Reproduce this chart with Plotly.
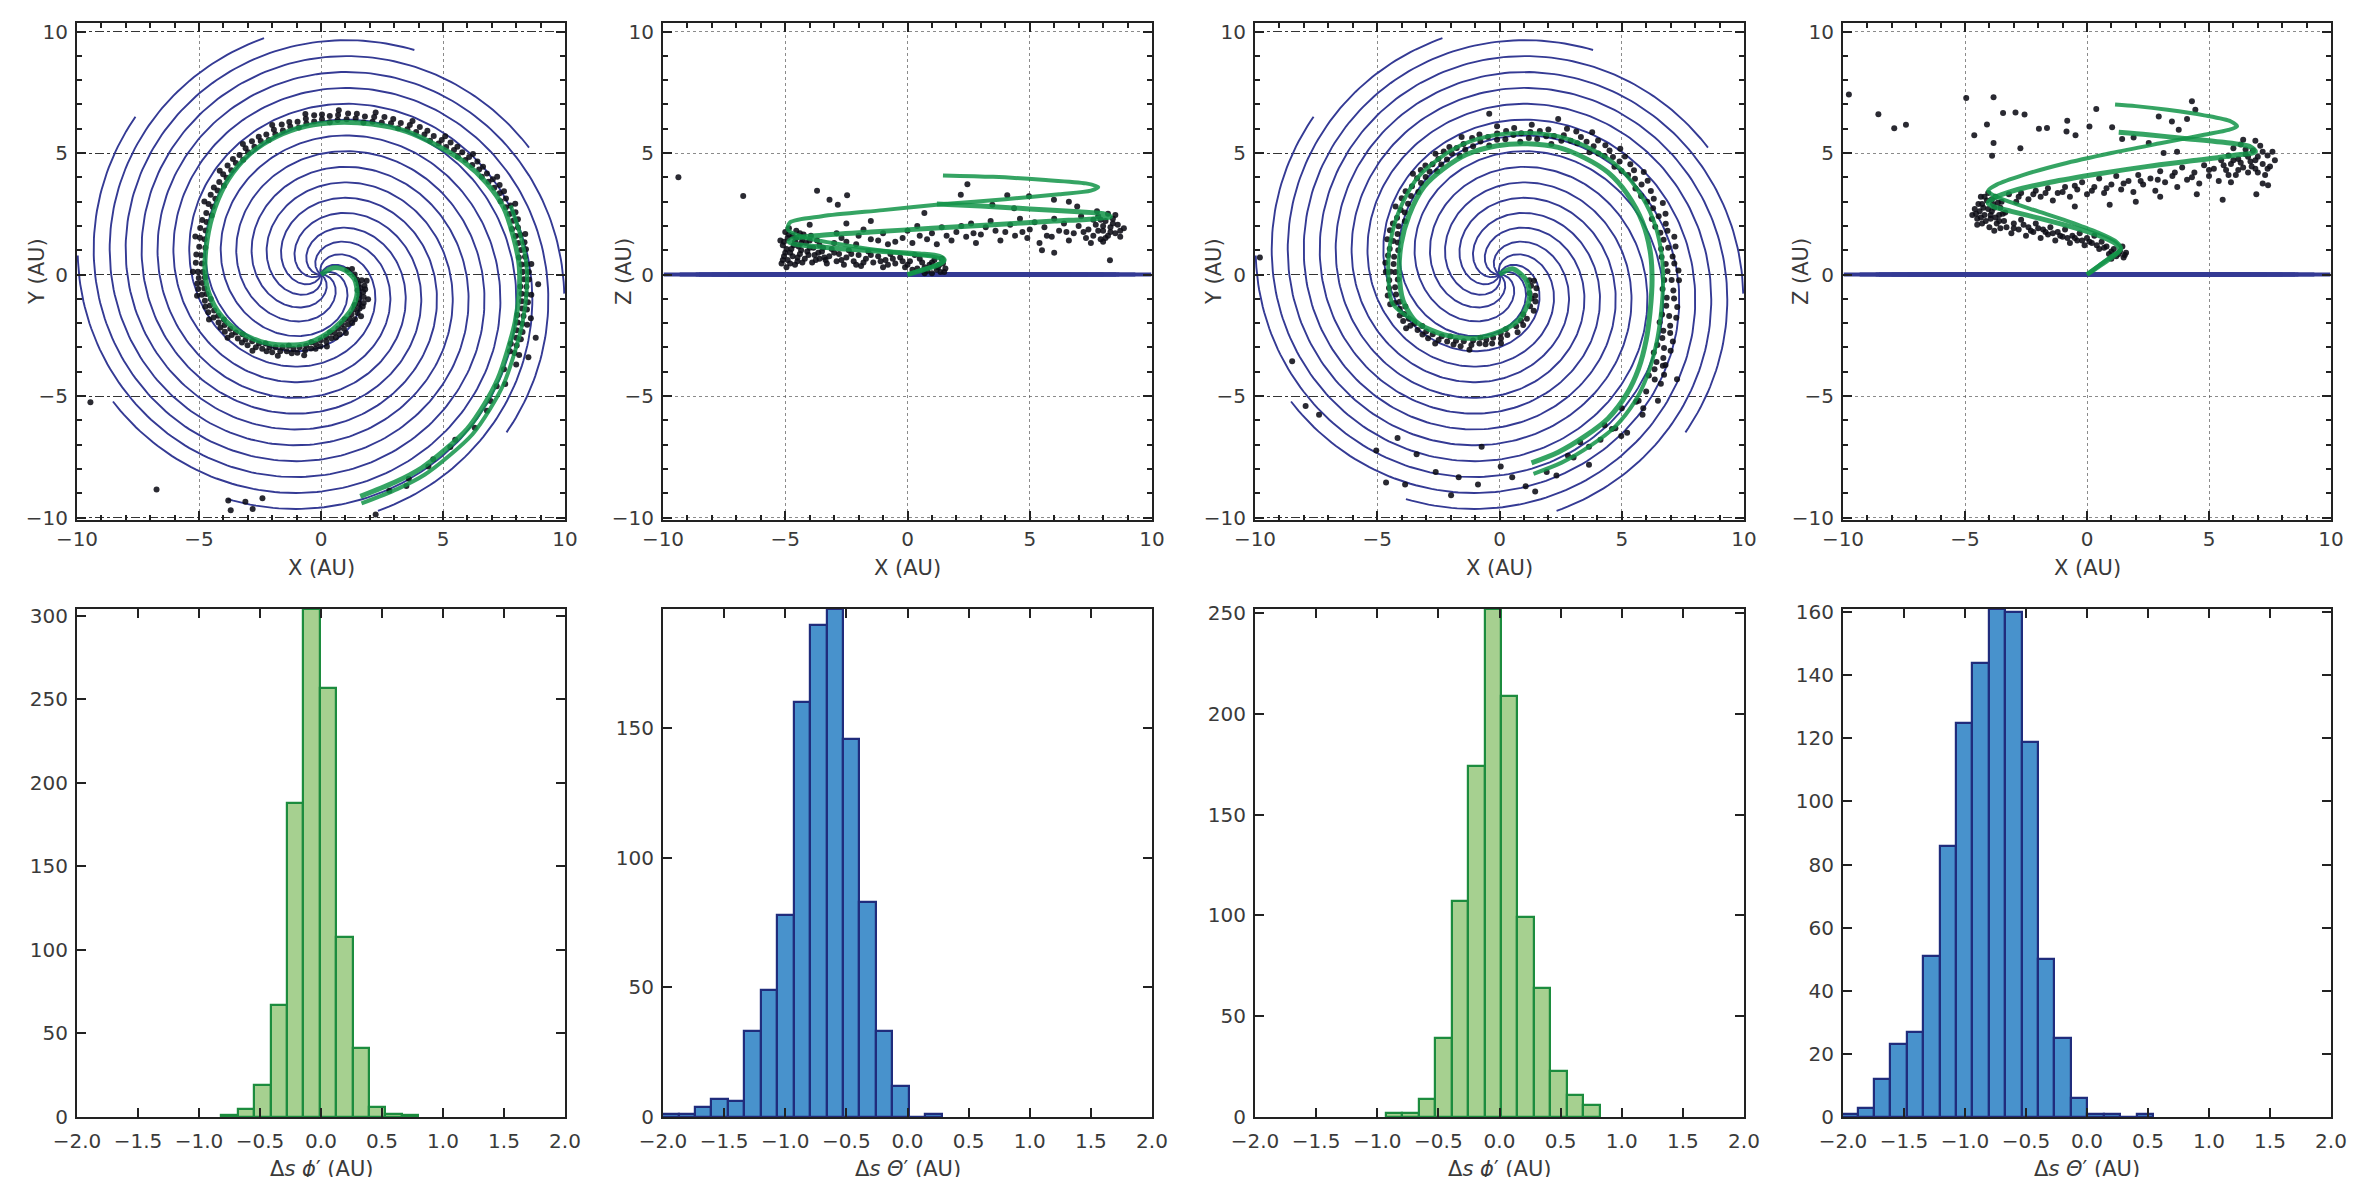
import numpy as np
import plotly.graph_objects as go

# ------------------------------------------------------------------
# Data
# ------------------------------------------------------------------
# Parker-spiral field lines (blue): 10 lines, each ending at r = 10 AU
N_FIELD_LINES = 10
SPIRAL_PITCH_AU_PER_RAD = 1.05
FIELD_LINE_RMAX_AU = 10.0
OUTER_END_ANGLES_DEG = [175.5, 139.5, 103.5, 67.5, 31.5, -4.5, -40.5, -76.5, -112.5, -148.5]

# Case A, green guiding-centre strands in the X-Y plane
A_GREEN_XY = [(0, 0), (0.51, 0.28), (0.98, 0.18), (1.37, -0.19), (1.48, -0.78), (1.29, -1.36),
              (0.82, -1.95), (0.2, -2.46), (-0.59, -2.83), (-1.53, -2.9), (-2.47, -2.76),
              (-3.41, -2.32), (-4.12, -1.66), (-4.59, -0.78), (-4.75, 0.1), (-4.67, 1.42),
              (-4.35, 2.74), (-3.8, 3.91), (-2.94, 4.94), (-1.84, 5.67), (-0.59, 6.11),
              (0.67, 6.26), (2.08, 6.19), (3.49, 5.89), (4.75, 5.31), (5.84, 4.65),
              (6.78, 3.77), (7.49, 2.74), (7.88, 1.57), (8.12, 0.4), (8.12, -0.78),
              (7.96, -1.95), (7.65, -3.12), (7.25, -4.3), (6.71, -5.32), (6.0, -6.35),
              (5.06, -7.23), (4.12, -7.96), (3.02, -8.55), (1.61, -9.13)]
A_GREEN2_XY = [(7.77, 2.84), (8.17, 1.63), (8.42, 0.42), (8.42, -0.81), (8.25, -2.02),
               (7.93, -3.23), (7.51, -4.45), (6.94, -5.51), (6.21, -6.57), (5.23, -7.48),
               (4.26, -8.23), (3.12, -8.83), (1.66, -9.42)]

# Case A, particle positions (black dots) in X-Y
A_POINTS_XY = [
    (1.08, 0.20), (1.27, 0.23), (1.47, -0.2), (1.67, -0.23), (1.87, -0.26), (1.57, -0.83), (1.75, -0.92),
    (1.93, -1.02), (1.36, -1.43), (1.5, -1.58), (1.64, -1.72), (0.86, -2.04), (0.94, -2.23), (1.02, -2.41),
    (0.21, -2.56), (0.22, -2.76), (0.24, -2.96), (-0.61, -2.93), (-0.65, -3.12), (-0.69, -3.32),
    (-1.58, -2.99), (-1.67, -3.16), (-1.77, -3.34), (-2.54, -2.84), (-2.67, -2.99), (-2.81, -3.14),
    (-3.49, -2.38), (-3.66, -2.49), (-3.83, -2.6), (-4.21, -1.7), (-4.4, -1.77), (-4.59, -1.85),
    (-4.69, -0.8), (-4.88, -0.83), (-5.08, -0.87), (-4.85, 0.1), (-5.05, 0.11), (-5.25, 0.11),
    (-4.77, 1.45), (-4.96, 1.51), (-5.15, 1.57), (-4.44, 2.79), (-4.61, 2.9), (-4.78, 3.01),
    (-3.87, 3.98), (-4.01, 4.13), (-4.15, 4.27), (-2.99, 5.03), (-3.09, 5.2), (-3.2, 5.37),
    (-1.87, 5.77), (-1.93, 5.96), (-2.0, 6.15), (-0.6, 6.21), (-0.62, 6.41), (-0.64, 6.61),
    (0.68, 6.36), (0.7, 6.56), (0.73, 6.76), (2.11, 6.29), (2.18, 6.48), (2.24, 6.67),
    (3.54, 5.98), (3.64, 6.15), (3.75, 6.32), (4.82, 5.39), (4.95, 5.54), (5.09, 5.69),
    (5.92, 4.71), (6.07, 4.84), (6.23, 4.96), (6.87, 3.82), (7.04, 3.92), (7.22, 4.02),
    (7.58, 2.77), (7.77, 2.84), (7.96, 2.91), (7.98, 1.59), (8.17, 1.63), (8.37, 1.67),
    (8.22, 0.41), (8.42, 0.42), (8.62, 0.43), (8.22, -0.79), (8.42, -0.81), (8.62, -0.83),
    (8.06, -1.97), (8.25, -2.02), (8.45, -2.07), (7.74, -3.16), (7.93, -3.23), (8.12, -3.31),
    (1.38, 0.0), (1.62, -0.55), (1.81, -0.61), (1.55, -1.19), (1.71, -1.31), (1.17, -1.83), (1.28, -1.99),
    (0.56, -2.4), (0.61, -2.59), (-0.21, -2.85), (-0.22, -3.05), (-1.13, -3.06), (-1.2, -3.24),
    (-2.11, -2.99), (-2.23, -3.16), (-3.09, -2.67), (-3.24, -2.8), (-3.95, -2.08), (-4.12, -2.18),
    (-4.55, -1.27), (-4.74, -1.33), (-4.87, -0.35), (-5.07, -0.37), (-4.91, 0.79), (-5.11, 0.82),
    (-4.69, 2.16), (-4.87, 2.24), (-4.24, 3.46), (-4.39, 3.58), (-3.49, 4.59), (-3.61, 4.75),
    (-2.47, 5.49), (-2.55, 5.67), (-1.26, 6.09), (-1.3, 6.28), (0.04, 6.39), (0.04, 6.59),
    (1.42, 6.42), (1.47, 6.62), (2.87, 6.22), (2.96, 6.4), (4.24, 5.76), (4.36, 5.92),
    (5.45, 5.12), (5.59, 5.26), (6.48, 4.32), (6.64, 4.43), (7.32, 3.34), (7.5, 3.43),
    (7.88, 2.21), (8.07, 2.27), (8.2, 1.01), (8.4, 1.04), (8.32, -0.19), (8.52, -0.2),
    (8.24, -1.4), (8.44, -1.44), (8.0, -2.6), (8.19, -2.66),
    (7.5, -3.9), (8.0, -3.7), (7.2, -4.6), (7.55, -4.5), (6.8, -5.6), (6.95, -5.2), (6.3, -6.3),
    (5.5, -6.8), (5.3, -7.1), (4.6, -7.6), (4.4, -7.9), (3.6, -8.4), (3.5, -8.7), (2.8, -8.9),
    (8.6, -1.8), (8.8, -2.6), (8.5, -3.4), (8.9, -0.4),
    (-6.74, -8.84), (-9.45, -5.25), (-3.8, -9.3), (-3.1, -9.35), (-2.8, -9.65), (-2.4, -9.2),
    (-3.7, -9.7), (2.24, -9.87)]
A_POINTS_XY_MORE = [
    (1.54, -0.39), (1.78, -0.46), (1.50, -0.65), (1.73, -0.72), (1.55, -1.02), (1.75, -1.17), (1.38, -1.25),
    (1.58, -1.4), (1.25, -1.63), (1.39, -1.84), (0.97, -1.84), (1.10, -2.05), (0.71, -2.22), (0.77, -2.46),
    (0.37, -2.38), (0.43, -2.62), (-0.01, -2.70), (-0.02, -2.95), (-0.39, -2.79), (-0.41, -3.04),
    (-0.88, -2.99), (-0.97, -3.22), (-1.32, -2.93), (-1.40, -3.16), (-1.86, -2.99), (-2.0, -3.2),
    (-2.27, -2.84), (-2.41, -3.05), (-2.82, -2.75), (-3.01, -2.91), (-3.22, -2.46), (-3.41, -2.63),
    (-3.72, -2.23), (-3.94, -2.35), (-3.98, -1.85), (-4.2, -1.97), (-4.38, -1.48), (-4.62, -1.55),
    (-4.52, -1.01), (-4.76, -1.08), (-4.78, -0.57), (-5.03, -0.59), (-4.76, -0.12), (-5.01, -0.14),
    (-4.88, 0.45), (-5.13, 0.49), (-4.74, 1.10), (-4.99, 1.14), (-4.73, 1.81), (-4.95, 1.91),
    (-4.48, 2.43), (-4.70, 2.53), (-4.33, 3.12), (-4.52, 3.28), (-3.98, 3.65), (-4.17, 3.81),
    (-3.68, 4.29), (-3.83, 4.49), (-3.19, 4.72), (-3.34, 4.92), (-2.73, 5.26), (-2.83, 5.48),
    (-2.14, 5.54), (-2.24, 5.76), (-1.56, 5.93), (-1.61, 6.17), (-0.91, 6.05), (-0.96, 6.29),
    (-0.28, 6.3), (-0.28, 6.55), (0.36, 6.27), (0.36, 6.52), (1.05, 6.39), (1.11, 6.63),
    (1.74, 6.26), (1.80, 6.50), (2.49, 6.26), (2.6, 6.48), (3.16, 6.02), (3.27, 6.24),
    (3.9, 5.87), (4.05, 6.07), (4.47, 5.5), (4.62, 5.7), (5.13, 5.25), (5.31, 5.43),
    (5.61, 4.85), (5.79, 5.03), (6.2, 4.51), (6.41, 4.65), (6.59, 4.02), (6.8, 4.16),
    (7.1, 3.57), (7.32, 3.68), (7.36, 3.02), (7.58, 3.13), (7.73, 2.49), (7.97, 2.56),
    (7.83, 1.87), (8.07, 1.94), (8.09, 1.3), (8.34, 1.33), (8.11, 0.7), (8.36, 0.73),
    (8.27, 0.11), (8.52, 0.1), (8.17, -0.49), (8.42, -0.5), (8.23, -1.1), (8.48, -1.14),
    (8.05, -1.67), (8.3, -1.71), (8.02, -2.29), (8.26, -2.36), (7.78, -2.85), (8.02, -2.92)]

# Case A, X-Z plane
A_GREEN_XZ = [(0, 0), (0.5, 0.15), (1.0, 0.3), (1.35, 0.45), (1.5, 0.6), (1.3, 0.75), (0.5, 0.85),
              (-1.0, 0.95), (-2.5, 1.05), (-3.8, 1.15), (-4.6, 1.25), (-4.85, 1.35), (-4.6, 1.5),
              (-3.5, 1.62), (-1.5, 1.75), (1.0, 1.9), (3.5, 2.05), (6.0, 2.2), (7.7, 2.3),
              (8.3, 2.38), (8.0, 2.5), (7.0, 2.58), (5.0, 2.7), (3.0, 2.82), (1.2, 2.9)]
A_GREEN2_XZ = [(0, 0), (0.6, 0.2), (1.2, 0.4), (1.5, 0.55), (1.2, 0.7), (0.0, 0.85), (-2.5, 1.2),
               (-4.3, 1.55), (-4.9, 1.85), (-4.8, 2.15), (-3.5, 2.4), (-1.0, 2.65), (1.5, 2.9),
               (4.0, 3.1), (6.2, 3.3), (7.5, 3.45), (7.8, 3.6), (7.3, 3.75), (5.5, 3.9),
               (3.5, 4.02), (1.45, 4.08)]
A_POINTS_XZ = [
    (-5.1, 0.6), (-5.0, 0.9), (-5.1, 1.2), (-4.9, 1.5), (-5.0, 1.75), (-4.8, 0.45), (-4.7, 0.75),
    (-4.75, 1.05), (-4.6, 1.35), (-4.7, 1.6), (-4.5, 0.55), (-4.4, 0.85), (-4.45, 1.15), (-4.3, 1.45),
    (-4.2, 0.65), (-4.1, 0.95), (-4.15, 1.3), (-3.9, 0.5), (-3.8, 0.8), (-3.85, 1.1), (-3.7, 1.4),
    (-3.6, 0.65), (-3.5, 0.95), (-5.2, 1.4), (-4.95, 0.3), (-4.55, 1.8), (-4.25, 1.65), (-3.95, 1.6),
    (-3.3, 0.45), (-3.2, 0.75), (-3.1, 1.05), (-2.9, 0.55), (-2.8, 0.85), (-2.6, 0.4), (-2.5, 0.7),
    (-2.4, 1.0), (-2.2, 0.55), (-2.0, 0.8), (-1.9, 0.35), (-1.7, 0.65), (-1.6, 0.95), (-1.4, 0.5),
    (-1.2, 0.75), (-1.0, 0.3), (-0.9, 0.6), (-0.7, 0.85), (-0.5, 0.45), (-0.3, 0.7), (-0.1, 0.3),
    (0.1, 0.55), (0.3, 0.8), (0.4, 0.25), (0.6, 0.5), (0.8, 0.15), (0.9, 0.4), (1.1, 0.6), (1.2, 0.2),
    (1.3, 0.4), (1.5, 0.1), (1.4, 0.65), (0.7, 0.05), (1.0, 0.05),
    (-3.0, 1.3), (-2.9, 1.7), (-2.7, 1.5), (-2.1, 1.25), (-2.0, 1.6), (-1.8, 1.85), (-1.2, 1.4),
    (-1.0, 1.7), (-0.8, 1.25), (-0.2, 1.5), (0.0, 1.8), (0.2, 1.3), (0.4, 2.0), (0.8, 1.45),
    (1.0, 1.7), (1.2, 1.25), (1.4, 1.95), (1.8, 1.4), (2.0, 1.75), (2.2, 2.0), (2.4, 1.55),
    (2.8, 1.3), (3.0, 1.65), (3.2, 1.95), (3.4, 2.2), (2.6, 2.1), (3.8, 1.4), (4.0, 1.75),
    (4.2, 2.05), (4.4, 1.6), (4.6, 2.3), (4.9, 1.5), (5.0, 1.85), (5.2, 2.15), (5.4, 1.3),
    (5.6, 1.95), (5.9, 1.55), (6.0, 2.3), (6.2, 1.8), (6.4, 2.1), (6.6, 1.4), (6.8, 1.7),
    (7.0, 2.0), (7.1, 2.4), (7.3, 1.5), (7.4, 1.85), (7.6, 1.6), (7.7, 2.05), (7.8, 2.4),
    (7.9, 1.45), (8.0, 1.8), (8.1, 2.2), (8.2, 1.6), (8.3, 1.95), (8.4, 2.3), (8.5, 1.7),
    (8.6, 2.05), (8.7, 1.55), (7.75, 2.6), (8.2, 2.5), (8.85, 1.9), (8.5, 2.45), (7.5, 1.3),
    (8.0, 1.35),
    (-9.37, 4.0), (-6.72, 3.23), (-3.7, 3.45), (-3.19, 3.08), (-2.85, 2.87), (-2.47, 3.26),
    (2.18, 3.28), (2.45, 3.72), (4.08, 3.26), (4.97, 3.22), (5.99, 3.08), (6.6, 3.0), (6.94, 2.8),
    (0.69, 2.53), (3.47, 2.87), (4.36, 2.73), (8.28, 0.59), (6.0, 0.9), (5.5, 1.0), (-4.0, 2.05),
    (-2.5, 2.1), (-1.5, 2.2)]
A_POINTS_XZ_MORE = [
    (-5.15, 0.45), (-5.05, 0.75), (-4.95, 1.05), (-5.05, 1.35), (-4.85, 1.65), (-4.9, 0.6), (-4.8, 0.9),
    (-4.65, 1.2), (-4.55, 1.5), (-4.6, 0.4), (-4.5, 0.7), (-4.35, 1.0), (-4.35, 1.3), (-4.3, 0.5),
    (-4.05, 0.8), (-4.0, 1.1), (-4.0, 1.4), (-3.75, 0.6), (-3.65, 0.9), (-3.6, 1.2), (-3.4, 0.7),
    (-3.45, 1.1), (-4.85, 1.9), (-4.4, 1.7),
    (-3.35, 0.6), (-3.0, 0.9), (-2.7, 0.6), (-2.3, 0.85), (-2.1, 0.4), (-1.8, 0.5), (-1.5, 0.8),
    (-1.1, 0.55), (-0.8, 0.4), (-0.6, 0.65), (-0.2, 0.55), (0.0, 0.4), (0.2, 0.2), (0.5, 0.65),
    (0.7, 0.3), (1.0, 0.5), (1.25, 0.3), (1.45, 0.45), (1.55, 0.25), (1.35, 0.1),
    (-2.5, 1.35), (-1.5, 1.45), (-0.5, 1.35), (0.5, 1.6), (1.6, 1.6), (2.7, 1.7), (3.6, 1.8),
    (4.7, 1.75), (5.7, 1.6), (6.5, 1.75), (7.2, 1.75), (7.8, 1.8), (8.3, 1.75), (8.0, 2.0),
    (7.6, 2.25), (8.4, 2.1), (8.7, 1.8), (8.1, 1.5), (7.9, 2.25)]

# Case B, X-Y plane
B_GREEN_XY = [(0, 0), (0.52, 0.24), (1.07, -0.2), (1.23, -0.93), (0.84, -1.81), (0.05, -2.33),
              (-1.04, -2.62), (-2.29, -2.47), (-3.39, -1.96), (-3.94, -1.08), (-4.1, 0.1),
              (-4.02, 1.27), (-3.7, 2.44), (-3.08, 3.62), (-2.29, 4.35), (-1.35, 4.94),
              (-0.1, 5.3), (1.15, 5.38), (2.4, 5.23), (3.5, 4.79), (4.44, 4.2), (5.22, 3.32),
              (5.85, 2.15), (6.16, 0.98), (6.24, -0.2), (6.16, -1.52), (6.0, -2.69),
              (5.69, -3.87), (5.22, -4.89), (4.44, -5.92), (3.5, -6.65), (2.4, -7.31), (1.31, -7.75)]
B_GREEN2_XY = [(-3.39, -1.96), (-4.37, -1.2), (-4.55, 0.11), (-4.45, 1.41), (-4.08, 2.69),
               (-3.37, 3.96), (-2.5, 4.75), (-1.47, 5.37), (-0.11, 5.75), (1.24, 5.82),
               (2.59, 5.64), (3.77, 5.15), (4.77, 4.51), (5.6, 3.56), (6.27, 2.31), (6.6, 1.05),
               (6.69, -0.21), (6.6, -1.63), (6.41, -2.87), (6.06, -4.12), (5.55, -5.2),
               (4.71, -6.28), (3.71, -7.05), (2.54, -7.74), (1.39, -8.2)]
B_POINTS_XY = [
    (1.22, -0.23), (1.41, -0.26), (1.31, -0.99), (1.47, -1.11), (0.88, -1.9), (0.97, -2.08),
    (0.05, -2.43), (0.06, -2.63), (0.06, -2.83), (-1.08, -2.71), (-1.15, -2.9), (-1.23, -3.09),
    (-2.36, -2.54), (-2.49, -2.69), (-2.63, -2.84), (-3.48, -2.01), (-3.65, -2.11), (-3.82, -2.21),
    (-4.08, -1.12), (-4.28, -1.17), (-4.47, -1.22), (-4.25, 0.1), (-4.45, 0.11), (-4.65, 0.11),
    (-4.16, 1.32), (-4.35, 1.38), (-4.59, 1.45), (-3.87, 2.55), (-4.04, 2.66), (-4.25, 2.8),
    (-3.21, 3.77), (-3.37, 3.96), (-3.54, 4.15), (-2.38, 4.53), (-2.5, 4.75), (-2.62, 4.97),
    (-1.4, 5.13), (-1.47, 5.37), (-1.55, 5.66), (-0.1, 5.55), (-0.1, 5.8), (-0.1, 6.1),
    (1.2, 5.62), (1.26, 5.87), (1.32, 6.16), (2.53, 5.5), (2.63, 5.73), (2.76, 6.0),
    (3.68, 5.03), (3.85, 5.28), (4.03, 5.52), (4.7, 4.44), (4.91, 4.65), (5.13, 4.86),
    (5.56, 3.54), (5.81, 3.7), (6.06, 3.86), (6.23, 2.29), (6.51, 2.4), (6.79, 2.5),
    (6.61, 1.05), (6.9, 1.1), (7.2, 1.15), (6.74, -0.22), (7.04, -0.22), (7.34, -0.23),
    (6.65, -1.64), (6.94, -1.71), (7.23, -1.78), (6.46, -2.9), (6.73, -3.02), (7.0, -3.14),
    (6.11, -4.15), (6.35, -4.32), (6.6, -4.49), (5.59, -5.23), (5.88, -5.5), (4.74, -6.32), (4.98, -6.64),
    (-0.54, -2.68), (-0.57, -2.87), (-1.78, -2.72), (-1.88, -2.88), (-3.0, -2.34), (-3.15, -2.47),
    (-3.9, -1.62), (-4.08, -1.69), (-4.27, -0.52), (-4.52, -0.55), (-4.31, 0.73), (-4.56, 0.78),
    (-4.13, 1.99), (-4.36, 2.1), (-3.62, 3.23), (-3.84, 3.43), (-2.86, 4.24), (-3.03, 4.49),
    (-1.95, 4.98), (-2.05, 5.25), (-0.78, 5.47), (-0.82, 5.76), (0.57, 5.74), (0.6, 6.03),
    (1.91, 5.69), (2.0, 5.97), (3.18, 5.4), (3.33, 5.66), (4.3, 4.88), (4.5, 5.1), (5.26, 4.1),
    (5.5, 4.29), (6.04, 2.99), (6.31, 3.12), (6.58, 1.72), (6.87, 1.8), (6.8, 0.43), (7.15, 0.45),
    (6.84, -0.95), (7.14, -0.99), (6.7, -2.31), (6.98, -2.41), (6.42, -3.6), (6.68, -3.75), (6.0, -4.81),
    (6.79, -3.72), (7.26, -4.31), (6.48, -5.19), (5.85, -5.77), (5.69, -5.19), (5.22, -6.51),
    (4.6, -6.36), (3.66, -7.09), (4.13, -6.8), (3.03, -7.53), (3.66, -7.83), (1.93, -8.12),
    (1.46, -8.93), (0.52, -8.34), (0.05, -7.9), (-0.73, -7.09), (-0.88, -8.64), (-1.67, -8.34),
    (-1.98, -9.08), (-2.61, -8.12), (-3.39, -7.39), (-3.86, -8.64), (-4.64, -8.56), (-4.17, -6.73),
    (-5.04, -7.24), (-7.38, -5.77), (-7.93, -5.41), (-8.48, -3.57), (2.33, -8.27), (1.07, -8.71),
    (2.8, -7.46), (5.0, -5.5), (4.3, -6.2), (3.3, -6.9), (-9.8, 0.7), (-0.42, 6.62), (2.4, 6.4)]
B_POINTS_XY_MORE = [
    (1.29, -0.46), (1.51, -0.56), (1.23, -0.77), (1.46, -0.87), (1.25, -1.3), (1.4, -1.49), (0.97, -1.63),
    (1.12, -1.82), (0.68, -2.13), (0.74, -2.37), (0.26, -2.25), (0.32, -2.49), (-0.26, -2.6), (-0.3, -2.84),
    (-0.78, -2.6), (-0.82, -2.84), (-1.46, -2.75), (-1.59, -2.95), (-2.01, -2.55), (-2.14, -2.76),
    (-2.73, -2.46), (-2.92, -2.62), (-3.16, -2.12), (-3.35, -2.28), (-3.71, -1.82), (-3.94, -1.91),
    (-3.85, -1.32), (-4.08, -1.41), (-4.23, -0.82), (-4.57, -0.86), (-4.16, -0.2), (-4.51, -0.24),
    (-4.33, 0.43), (-4.67, 0.49), (-4.14, 1.0), (-4.49, 1.06), (-4.17, 1.67), (-4.48, 1.82),
    (-3.87, 2.19), (-4.19, 2.34), (-3.74, 2.91), (-4.0, 3.14), (-3.32, 3.4), (-3.58, 3.63),
    (-3.02, 4.01), (-3.22, 4.3), (-2.55, 4.25), (-2.74, 4.54), (-2.15, 4.73), (-2.28, 5.06),
    (-1.63, 4.88), (-1.75, 5.21), (-1.08, 5.28), (-1.12, 5.62), (-0.42, 5.31), (-0.47, 5.66),
    (0.24, 5.57), (0.27, 5.91), (0.85, 5.46), (0.89, 5.81), (1.54, 5.58), (1.65, 5.91),
    (2.12, 5.37), (2.23, 5.7), (2.91, 5.51), (3.14, 5.89), (3.56, 5.46), (3.79, 5.85),
    (4.04, 4.98), (4.33, 5.32), (4.64, 4.84), (4.94, 5.18), (4.99, 4.26), (5.35, 4.54),
    (5.54, 3.94), (5.9, 4.22), (5.79, 3.23), (6.19, 3.44), (6.28, 2.73), (6.68, 2.94),
    (6.37, 1.97), (6.8, 2.09), (6.71, 1.43), (7.15, 1.55), (6.63, 0.72), (7.08, 0.74),
    (6.87, 0.14), (7.32, 0.17), (6.67, -0.59), (7.11, -0.66), (6.82, -1.28), (7.27, -1.34),
    (6.55, -1.96), (6.98, -2.11), (6.66, -2.61), (7.09, -2.76), (6.31, -3.21), (6.7, -3.43),
    (6.34, -3.9), (6.73, -4.12)]

# Case B, X-Z plane
B_GREEN_XZ = [(0, 0), (0.5, 0.35), (1.0, 0.7), (1.35, 1.0), (1.2, 1.25), (0.5, 1.6), (-0.6, 1.95),
              (-1.9, 2.3), (-3.1, 2.6), (-3.85, 2.8), (-4.05, 2.95), (-3.8, 3.15), (-3.0, 3.45),
              (-1.5, 3.8), (0.5, 4.15), (2.5, 4.45), (4.5, 4.7), (6.0, 4.9), (6.9, 5.05),
              (6.7, 5.25), (5.5, 5.45), (4.0, 5.6), (2.5, 5.75), (1.3, 5.85)]
B_GREEN2_XZ = [(0, 0), (0.5, 0.38), (1.0, 0.75), (1.4, 1.05), (1.2, 1.35), (0.4, 1.75), (-0.8, 2.2),
               (-2.0, 2.6), (-3.2, 3.0), (-3.9, 3.3), (-4.05, 3.45), (-3.7, 3.7), (-2.6, 4.1),
               (-1.0, 4.55), (1.0, 5.0), (3.0, 5.4), (4.8, 5.75), (5.8, 5.95), (6.15, 6.1),
               (5.9, 6.3), (4.8, 6.55), (3.3, 6.78), (2.0, 6.93), (1.15, 7.0)]
B_POINTS_XZ = [
    (-4.5, 2.3), (-4.4, 2.6), (-4.45, 2.9), (-4.3, 2.1), (-4.2, 2.45), (-4.25, 2.75), (-4.1, 3.05),
    (-4.0, 1.95), (-3.95, 2.3), (-3.9, 2.6), (-3.85, 2.9), (-3.75, 3.2), (-3.7, 2.1), (-3.6, 2.45),
    (-3.55, 2.75), (-3.4, 2.2), (-3.35, 2.55), (-4.6, 2.7), (-4.35, 3.2), (-4.05, 3.35), (-3.8, 1.8),
    (-4.7, 2.45), (-3.5, 3.0), (-3.3, 1.95),
    (-3.1, 1.7), (-3.0, 2.1), (-2.8, 1.85), (-2.7, 2.25), (-2.5, 1.6), (-2.4, 1.95), (-2.2, 1.75),
    (-2.1, 2.1), (-1.9, 1.5), (-1.8, 1.85), (-1.6, 1.65), (-1.5, 1.95), (-1.3, 1.4), (-1.2, 1.75),
    (-1.0, 1.55), (-0.9, 1.85), (-0.7, 1.3), (-0.6, 1.6), (-0.4, 1.4), (-0.3, 1.7), (-0.1, 1.2),
    (0.0, 1.5), (0.2, 1.3), (0.3, 1.6), (0.5, 1.05), (0.6, 1.35), (0.8, 1.15), (0.9, 0.85),
    (1.1, 1.05), (1.2, 0.75), (1.35, 0.95), (1.5, 0.7), (1.6, 0.9), (1.45, 1.15), (1.0, 0.65),
    (-3.2, 3.3), (-2.9, 3.0), (-2.7, 3.35), (-2.4, 3.1), (-2.1, 3.45), (-1.9, 3.2), (-1.6, 3.55),
    (-1.4, 3.05), (-1.2, 3.35), (-0.9, 3.6), (-0.7, 3.2), (-0.4, 3.5), (-0.2, 3.8), (0.0, 3.3),
    (0.3, 3.6), (0.5, 3.95), (0.7, 3.35), (1.0, 3.7), (1.2, 4.05), (1.4, 3.5), (1.7, 3.85),
    (1.9, 3.4), (2.1, 4.1), (2.3, 3.7), (2.6, 3.95), (2.8, 3.45), (3.0, 4.25), (3.2, 3.8),
    (3.5, 4.05), (3.7, 3.6), (3.9, 4.4), (4.1, 3.9), (4.4, 4.2), (4.6, 3.75), (4.8, 4.5),
    (5.0, 4.05), (5.2, 4.35), (5.4, 3.85), (5.5, 4.7),
    (5.7, 4.3), (5.8, 4.9), (5.9, 4.55), (6.0, 5.2), (6.1, 4.1), (6.2, 4.75), (6.3, 5.35),
    (6.4, 4.4), (6.5, 4.95), (6.6, 4.2), (6.7, 4.65), (6.8, 5.1), (6.9, 4.35), (7.0, 4.85),
    (7.1, 5.3), (7.2, 4.55), (7.3, 4.1), (7.4, 4.9), (7.5, 4.45), (7.6, 5.05), (6.4, 5.55),
    (6.9, 5.5), (7.7, 4.7), (5.9, 3.8), (7.2, 3.75),
    (0.93, 2.87), (2.0, 3.0), (3.0, 3.2), (-0.5, 2.8), (4.5, 3.3),
    (-4.95, 7.26), (-3.83, 7.29), (-3.44, 6.65), (-2.93, 6.67), (-2.56, 6.58), (-4.1, 6.17),
    (-4.62, 5.73), (-3.83, 5.41), (-3.89, 4.89), (-2.73, 5.2), (-1.97, 6.0), (-1.64, 6.03),
    (-0.81, 6.33), (-0.84, 5.89), (-0.47, 5.73), (0.1, 6.09), (0.38, 6.81), (1.03, 6.06),
    (1.44, 5.58), (1.91, 5.64), (2.94, 6.5), (3.48, 6.3), (4.1, 6.4), (4.3, 7.13), (4.44, 6.78),
    (3.76, 5.96), (2.53, 5.41), (3.14, 5.0), (3.69, 5.05), (-9.76, 7.41), (-8.55, 6.6),
    (-7.9, 6.02), (-7.42, 6.16), (5.56, 3.08), (6.94, 3.3), (7.42, 3.67)]
B_POINTS_XZ_MORE = [
    (-4.55, 2.5), (-4.35, 2.35), (-4.3, 2.9), (-4.15, 2.2), (-4.05, 2.7), (-3.95, 2.45), (-3.8, 2.75),
    (-3.75, 2.35), (-3.65, 2.95), (-3.6, 2.2), (-3.45, 2.5), (-4.2, 3.2), (-3.9, 3.1), (-4.5, 2.05),
    (-3.55, 1.9),
    (-3.0, 1.9), (-2.6, 2.05), (-2.3, 1.8), (-2.0, 1.9), (-1.7, 1.75), (-1.4, 1.7), (-1.1, 1.6),
    (-0.8, 1.5), (-0.5, 1.5), (-0.2, 1.4), (0.1, 1.35), (0.4, 1.2), (0.7, 1.1), (1.0, 0.95),
    (1.3, 0.85), (1.55, 0.8),
    (-2.8, 3.2), (-2.2, 3.3), (-1.7, 3.35), (-1.0, 3.4), (-0.5, 3.65), (0.2, 3.45), (0.8, 3.55),
    (1.5, 3.75), (2.2, 3.85), (2.9, 3.9), (3.6, 4.2), (4.3, 4.0), (5.0, 4.3), (5.6, 4.5),
    (6.0, 4.7), (6.3, 4.6), (6.6, 4.85), (6.9, 4.7), (7.2, 5.05), (7.4, 4.35), (6.2, 4.3),
    (6.75, 4.45), (5.8, 4.1), (7.0, 4.2), (6.5, 5.15)]

# Histograms: first bin left edge, common bin width, counts per bin
HIST_BIN_WIDTH = 0.1345
HIST_A_PHI_START = -0.817
HIST_A_PHI_COUNTS = [1, 5, 19, 67, 188, 304, 257, 108, 41, 6, 2, 1]
HIST_A_THETA_START = -2.007
HIST_A_THETA_COUNTS = [1, 1, 4, 7, 6, 33, 49, 78, 160, 190, 196, 146, 83, 33, 12, 0, 1]
HIST_B_PHI_START = -0.929
HIST_B_PHI_COUNTS = [2, 2, 9, 39, 107, 174, 252, 209, 99, 64, 23, 11, 6]
HIST_B_THETA_START = -2.015
HIST_B_THETA_COUNTS = [1, 3, 12, 23, 27, 51, 86, 125, 144, 161, 160, 119, 50, 25, 6, 1, 1, 0, 1]

# ------------------------------------------------------------------
W, H = 2358, 1177
FONT = "DejaVu Sans"
TXT = "#3a3a3a"
FRAME = "#222222"
BLUE_LINE = "rgb(52,58,148)"
GREEN_LINE = "rgba(18,148,72,0.85)"
DOT = "rgba(12,12,22,0.88)"

COLS_PX = [(69, 557), (655, 1144), (1247, 1736), (1835, 2323)]
ROWS_PX = [(15, 512), (601, 1109)]


def xdom(c):
    a, b = COLS_PX[c]
    return [a / W, b / W]


def ydom(r):
    t, b = ROWS_PX[r]
    return [1 - b / H, 1 - t / H]


def unzip(pts):
    return [p[0] for p in pts], [p[1] for p in pts]


# spiral field lines
r_s = np.linspace(0.0, FIELD_LINE_RMAX_AU, 400)
spx, spy = [], []
for end_deg in OUTER_END_ANGLES_DEG[:N_FIELD_LINES]:
    start = np.deg2rad(end_deg) + FIELD_LINE_RMAX_AU / SPIRAL_PITCH_AU_PER_RAD
    phi = start - r_s / SPIRAL_PITCH_AU_PER_RAD
    spx += list(r_s * np.cos(phi)) + [None]
    spy += list(r_s * np.sin(phi)) + [None]
spz = [None if v is None else 0.0 for v in spx]

fig = go.Figure()


def add(tr, i):
    tr.update(xaxis=f"x{i}", yaxis=f"y{i}", showlegend=False)
    fig.add_trace(tr)


def top_panel(i, bx, by, pts, greens, flat):
    add(go.Scatter(x=bx, y=by, mode="lines", line=dict(color=BLUE_LINE, width=4 if flat else 1.9)), i)
    px_, py_ = unzip(pts)
    add(go.Scatter(x=px_, y=py_, mode="markers",
                   marker=dict(color=DOT, size=6, line=dict(width=0))), i)
    for k, g in enumerate(greens):
        gx, gy = unzip(g)
        add(go.Scatter(x=gx, y=gy, mode="lines",
                       line=dict(color=GREEN_LINE, width=5 if k == 0 else 4, shape="spline",
                                 smoothing=0.8)), i)


top_panel(1, spx, spy, A_POINTS_XY + A_POINTS_XY_MORE, [A_GREEN_XY, A_GREEN2_XY], False)
top_panel(2, spx, spz, A_POINTS_XZ + A_POINTS_XZ_MORE, [A_GREEN_XZ, A_GREEN2_XZ], True)
top_panel(3, spx, spy, B_POINTS_XY + B_POINTS_XY_MORE, [B_GREEN_XY, B_GREEN2_XY], False)
top_panel(4, spx, spz, B_POINTS_XZ + B_POINTS_XZ_MORE, [B_GREEN_XZ, B_GREEN2_XZ], True)

GREEN_FILL, GREEN_EDGE = "rgb(166,208,144)", "rgb(28,140,62)"
BLUE_FILL, BLUE_EDGE = "rgb(72,146,204)", "rgb(32,44,124)"


def hist(i, start, counts, fill, edge):
    centers = [start + (k + 0.5) * HIST_BIN_WIDTH for k in range(len(counts))]
    add(go.Bar(x=centers, y=counts, width=HIST_BIN_WIDTH,
               marker=dict(color=fill, line=dict(color=edge, width=2.2))), i)


hist(5, HIST_A_PHI_START, HIST_A_PHI_COUNTS, GREEN_FILL, GREEN_EDGE)
hist(6, HIST_A_THETA_START, HIST_A_THETA_COUNTS, BLUE_FILL, BLUE_EDGE)
hist(7, HIST_B_PHI_START, HIST_B_PHI_COUNTS, GREEN_FILL, GREEN_EDGE)
hist(8, HIST_B_THETA_START, HIST_B_THETA_COUNTS, BLUE_FILL, BLUE_EDGE)

tickfont = dict(family=FONT, size=20, color=TXT)
common = dict(showline=True, linecolor=FRAME, linewidth=2, mirror="ticks", ticks="inside",
              ticklen=9, tickwidth=1.5, tickcolor=FRAME, zeroline=False, tickfont=tickfont,
              automargin=False)

layout = {}
for i in range(1, 9):
    r = 0 if i <= 4 else 1
    c = (i - 1) % 4
    xa = dict(common, domain=xdom(c), anchor=f"y{i}")
    ya = dict(common, domain=ydom(r), anchor=f"x{i}")
    if r == 0:
        xa.update(range=[-10, 10], tick0=0, dtick=5, showgrid=True, gridcolor="rgba(90,90,90,0.7)",
                  griddash="dot", gridwidth=1, ticklabelstandoff=0,
                  minor=dict(ticks="inside", ticklen=5, dtick=1, tickcolor=FRAME, showgrid=False))
        ydark = i in (1, 3)
        ya.update(range=[-10.1, 10.35], tick0=0, dtick=5, showgrid=True,
                  gridcolor="rgba(30,30,30,0.9)" if ydark else "rgba(90,90,90,0.7)",
                  griddash="dashdot" if ydark else "dot", gridwidth=1.3 if ydark else 1,
                  ticklabelstandoff=3,
                  minor=dict(ticks="inside", ticklen=5, dtick=1, tickcolor=FRAME, showgrid=False))
    else:
        xa.update(range=[-2, 2], tick0=0, dtick=0.5, tickformat=".1f", showgrid=False,
                  ticklabelstandoff=5)
        ymax = {5: 304, 6: 196, 7: 252, 8: 161}[i]
        ytick = 20 if i == 8 else 50
        ya.update(range=[0, ymax], tick0=0, dtick=ytick, showgrid=False, ticklabelstandoff=3)
    layout[f"xaxis{i}"] = xa
    layout[f"yaxis{i}"] = ya

titlefont = dict(family=FONT, size=21, color=TXT)
ann = []
for c in range(4):
    cx = (COLS_PX[c][0] + COLS_PX[c][1]) / 2 / W
    ann.append(dict(text="X (AU)", x=cx, y=1 - 560 / H, xref="paper", yref="paper",
                    showarrow=False, font=titlefont, xanchor="center", yanchor="middle"))
    lab = "Δ<i>s</i> <i>ϕ</i>′ (AU)" if c in (0, 2) else "Δ<i>s</i> <i>Θ</i>′ (AU)"
    ann.append(dict(text=lab, x=cx, y=1 - 1161 / H, xref="paper", yref="paper",
                    showarrow=False, font=titlefont, xanchor="center", yanchor="middle"))
for xpx, lab in zip([29, 616, 1206, 1793], ["Y (AU)", "Z (AU)", "Y (AU)", "Z (AU)"]):
    ann.append(dict(text=lab, x=xpx / W, y=1 - 264 / H, xref="paper", yref="paper",
                    showarrow=False, font=titlefont, textangle=-90,
                    xanchor="center", yanchor="middle"))

fig.update_layout(width=W, height=H, margin=dict(l=0, r=0, t=0, b=0),
                  paper_bgcolor="white", plot_bgcolor="white",
                  font=dict(family=FONT, color=TXT), annotations=ann, bargap=0, **layout)

fig.write_html("out.html")
